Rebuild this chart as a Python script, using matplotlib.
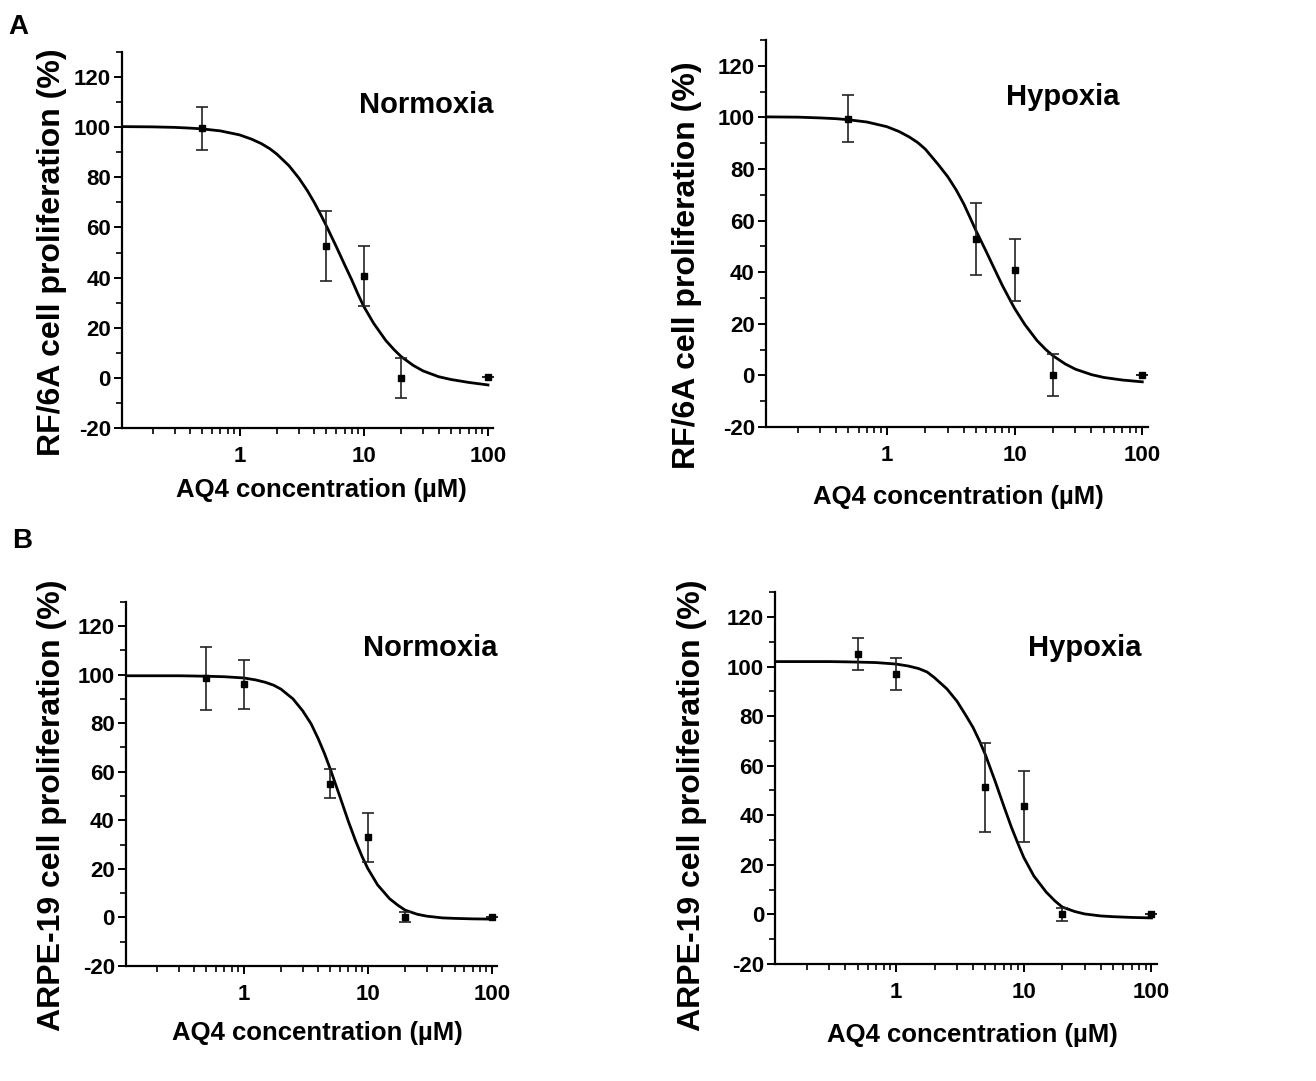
import matplotlib
matplotlib.use("Agg")
import matplotlib.pyplot as plt
from matplotlib.ticker import FixedLocator, LogLocator, MultipleLocator, NullFormatter

plt.rcParams['font.family'] = ['Liberation Sans', 'DejaVu Sans']
plt.rcParams['font.weight'] = 'bold'
plt.rcParams['axes.unicode_minus'] = False

# measured points (mean, sd)
conc_A = [0.5, 5, 10, 20, 100]
rf_norm_mean = [99.5, 52.5, 40.6, 0.1, 0.3]
rf_norm_sd = [8.5, 14.0, 12.0, 8.0, 0.0]
rf_hyp_mean = [99.5, 52.8, 40.7, 0.1, 0.3]
rf_hyp_sd = [9.0, 14.0, 12.0, 8.0, 0.0]

conc_B = [0.5, 1, 5, 10, 20, 100]
arpe_norm_mean = [98.5, 96.0, 55.0, 33.0, 0.3, 0.3]
arpe_norm_sd = [13.0, 10.0, 6.0, 10.0, 2.0, 0.0]
arpe_hyp_mean = [105.0, 97.0, 51.3, 43.7, 0.0, 0.2]
arpe_hyp_sd = [6.5, 6.6, 18.0, 14.3, 2.7, 0.0]

# fitted curves
fit_x = [0.115, 0.2, 0.3, 0.4, 0.5, 0.7, 1, 1.25, 1.5, 1.75, 2, 2.5, 3, 3.5, 4, 4.5,
         5, 6, 7, 8, 9, 10, 12, 15, 17.5, 20, 25, 30, 40, 50, 70, 100]
fit_rf_norm = [100.2, 100.1, 99.9, 99.6, 99.3, 98.5, 96.9, 95.2, 93.4, 91.4, 89.2, 84.6,
               79.7, 74.8, 69.9, 65.1, 60.6, 52.4, 45.2, 39.1, 33.3, 28.5, 21.8, 15.0,
               11.3, 8.5, 5.0, 2.8, 0.5, -0.6, -1.8, -2.8]
fit_rf_hyp = [100.2, 100.1, 99.8, 99.5, 99.1, 98.2, 96.4, 94.5, 92.4, 90.2, 87.7, 82.0,
              77.0, 71.8, 66.5, 61.0, 56.0, 48.0, 41.0, 35.0, 30.2, 26.0, 19.8, 13.5,
              10.1, 7.6, 4.4, 2.4, 0.3, -0.8, -1.8, -2.5]
fit_arpe_norm = [99.5, 99.5, 99.5, 99.4, 99.3, 99.1, 98.6, 97.8, 96.8, 95.6, 94.0, 90.0,
                 85.0, 79.7, 73.5, 67.3, 61.0, 49.4, 39.4, 31.4, 25.1, 20.2, 13.4, 7.7,
                 5.0, 3.0, 1.3, 0.5, -0.2, -0.4, -0.6, -0.7]
fit_arpe_hyp = [102.0, 102.0, 102.0, 101.9, 101.8, 101.6, 101.0, 100.2, 99.2, 97.8, 95.5,
                91.0, 86.0, 80.5, 75.5, 70.0, 64.5, 53.4, 43.5, 35.2, 28.6, 23.0, 15.5,
                9.0, 5.5, 3.0, 1.2, 0.2, -0.6, -0.9, -1.2, -1.4]

fig = plt.figure(figsize=(13.16, 10.81), dpi=100)

panels = [
    # rect, x, mean, sd, fit, ylabel, title, title pos, ylabel pos, xlabel pos
    ([0.0927, 0.604, 0.282, 0.348], conc_A, rf_norm_mean, rf_norm_sd, fit_rf_norm,
     "RF/6A cell proliferation (%)", "Normoxia", (1.0, 0.86), (-0.189, 0.467), (0.536, -0.165)),
    ([0.582, 0.605, 0.290, 0.358], conc_A, rf_hyp_mean, rf_hyp_sd, fit_rf_hyp,
     "RF/6A cell proliferation (%)", "Hypoxia", (0.927, 0.853), (-0.207, 0.419), (0.505, -0.181)),
    ([0.0957, 0.1064, 0.282, 0.337], conc_B, arpe_norm_mean, arpe_norm_sd, fit_arpe_norm,
     "ARPE-19 cell proliferation (%)", "Normoxia", (1.0, 0.874), (-0.20, 0.442), (0.515, -0.184)),
    ([0.589, 0.1082, 0.290, 0.344], conc_B, arpe_hyp_mean, arpe_hyp_sd, fit_arpe_hyp,
     "ARPE-19 cell proliferation (%)", "Hypoxia", (0.961, 0.849), (-0.217, 0.427), (0.516, -0.191)),
]

for rect, x, m, s, fit, ylab, title, tpos, ypos, xpos in panels:
    ax = fig.add_axes(rect)
    ax.plot(fit_x, fit, color='black', lw=2)
    ax.errorbar(x, m, yerr=s, fmt='s', color='black', ms=4, ecolor='#222222',
                elinewidth=1.2, capsize=4, capthick=1.2)
    ax.set_xscale('log')
    ax.set_xlim(0.113, 110)
    ax.set_ylim(-20, 130)
    ax.xaxis.set_major_locator(FixedLocator([1, 10, 100]))
    ax.set_xticklabels(["1", "10", "100"])
    ax.xaxis.set_minor_locator(LogLocator(base=10, subs=range(2, 10)))
    ax.xaxis.set_minor_formatter(NullFormatter())
    ax.set_yticks(range(-20, 121, 20))
    ax.yaxis.set_minor_locator(MultipleLocator(10))
    for sp in ['top', 'right']:
        ax.spines[sp].set_visible(False)
    for sp in ['left', 'bottom']:
        ax.spines[sp].set_linewidth(1.6)
    ax.tick_params(which='major', direction='out', length=6, width=1.4, labelsize=16)
    ax.tick_params(which='minor', direction='out', length=4, width=1.2)
    ax.tick_params(axis='x', pad=7)
    ax.tick_params(axis='y', pad=2)
    ax.set_ylabel(ylab, fontsize=23, fontweight='bold')
    ax.set_xlabel("AQ4 concentration (µM)", fontsize=18.5, fontweight='bold')
    ax.yaxis.set_label_coords(*ypos)
    ax.xaxis.set_label_coords(*xpos)
    ax.yaxis.label.set_va('center')
    ax.xaxis.label.set_va('center')
    ax.text(tpos[0], tpos[1], title, transform=ax.transAxes, ha='right', va='center',
            fontsize=21, fontweight='bold')

fig.text(0.006, 0.975, "A", fontsize=20, fontweight='bold', va='center', ha='left')
fig.text(0.009, 0.5, "B", fontsize=20, fontweight='bold', va='center', ha='left')

fig.savefig("out.png", dpi=100)
